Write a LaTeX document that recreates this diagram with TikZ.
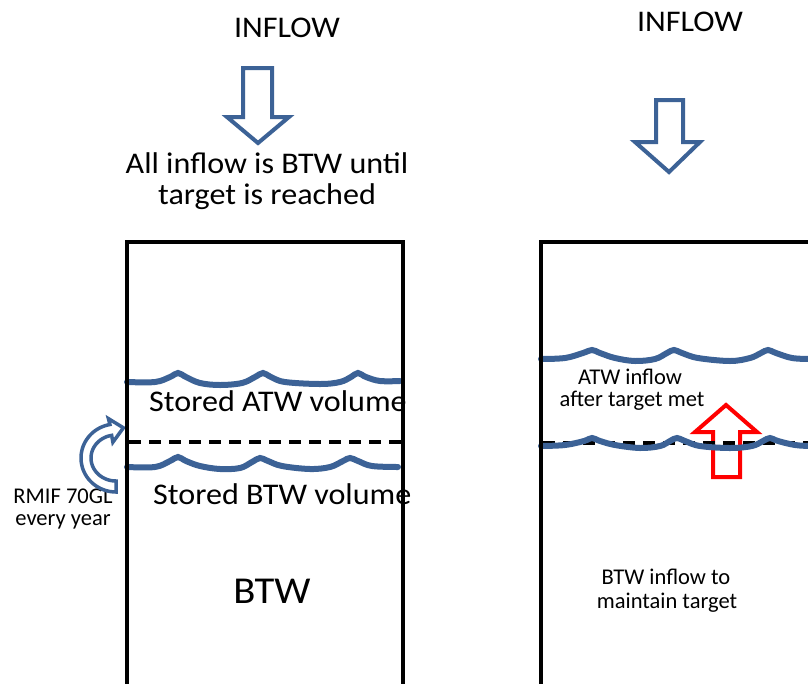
\documentclass[tikz,border=0pt]{standalone}
\usepackage{fontspec}
\setmainfont{Carlito}
\newfontfamily\bigfont{Carlito}[FakeStretch=1.07]
\definecolor{wblue}{RGB}{60,98,150}
\definecolor{wred}{RGB}{255,0,0}
\tikzset{
  boxline/.style={draw=black,line width=4.5pt},
  waveline/.style={draw=wblue,line width=6pt,line cap=round},
  dashline/.style={draw=black,line width=4pt,dash pattern=on 12pt off 8pt},
  bluearrow/.style={draw=wblue,fill=white,line width=4pt,line join=miter},
  redarrow/.style={draw=wred,fill=white,line width=4pt,line join=miter},
  bigtxt/.style={inner sep=0pt,font=\bigfont\fontsize{30}{34}\selectfont},
  midtxt/.style={inner sep=0pt,font=\fontsize{22.5}{26}\selectfont},
  hugetxt/.style={inner sep=0pt,font=\bigfont\fontsize{38}{42}\selectfont},
}
\begin{document}
\begin{tikzpicture}[x=1pt,y=-1pt]
\useasboundingbox (0,0) rectangle (808,683);
% texts
\node[bigtxt] (inflowL) at (287,28) {INFLOW};
\node[bigtxt] (inflowR) at (690,22) {INFLOW};
\node[bigtxt] (allin1) at (267,163) {All inflow is BTW until};
\node[bigtxt] (allin2) at (267,197) {target is reached};
\node[bigtxt,anchor=west] (satw) at (149,401) {Stored ATW volume};
\node[bigtxt,anchor=west] (sbtw) at (153,494) {Stored BTW volume};
\node[midtxt] (rmif1) at (63,496) {RMIF 70GL};
\node[midtxt] (rmif2) at (63,522) {every year};
\node[hugetxt] (btw) at (272,591) {BTW};
\node[midtxt] (atw1) at (630,377) {ATW inflow};
\node[midtxt] (atw2) at (632,401) {after target met};
\node[midtxt] (btwin1) at (666,577) {BTW inflow to};
\node[midtxt] (btwin2) at (667,603) {maintain target};
% down arrows
\draw[bluearrow] (243,68) -- (272,68) -- (272,117) -- (289,117) -- (258,143) -- (227,117) -- (243,117) -- cycle;
\draw[bluearrow] (656,100) -- (683,100) -- (683,142) -- (700,142) -- (669,172) -- (635,142) -- (656,142) -- cycle;
% red up arrow
\draw[redarrow] (726,405) -- (757,432) -- (740,432) -- (740,477) -- (713,477) -- (713,432) -- (695,432) -- cycle;
% curved RMIF arrow
\draw[bluearrow,line width=3.5pt] (116,481) -- (116,492)
  -- plot[domain=90:260,samples=40] ({116+35*cos(\x)},{458+34*sin(\x)})
  -- (108.4,418.6) -- (123.4,427.8) -- (112.9,442.2)
  -- plot[domain=260:90,samples=40] ({116+25*cos(\x)},{458+23*sin(\x)})
  -- cycle;
% dashed lines
\draw[dashline] (129,442) -- (401,442);
\draw[dashline] (543,443) -- (808,443);
% waves
\draw[waveline] plot[smooth,tension=0.6] coordinates {(127,382) (155,382) (170,377) (178,373) (186,377) (200,383) (220,385) (242,383) (255,377) (263,373) (271,377) (285,382) (320,384) (340,382) (351,377) (358,373) (366,377) (380,381) (400,381)};
\draw[waveline] plot[smooth,tension=0.6] coordinates {(127,467) (155,467) (170,461) (178,457) (186,461) (200,466) (220,469) (240,468) (252,462) (260,458) (268,461) (282,466) (310,469) (330,467) (343,461) (350,458) (358,461) (372,466) (398,467)};
\draw[waveline] plot[smooth,tension=0.6] coordinates {(541,359) (565,358) (583,353) (592,350) (600,353) (615,358) (635,361) (655,359) (667,353) (674,350) (682,353) (698,358) (730,361) (750,358) (761,353) (768,350) (776,353) (792,358) (810,359)};
\draw[waveline] plot[smooth,tension=0.6] coordinates {(541,446) (565,445) (584,441) (592,438) (600,441) (615,445) (640,448) (660,446) (670,441) (677,438) (685,441) (700,446) (730,448) (752,446) (763,441) (770,438) (778,441) (795,445) (810,446)};
% boxes
\draw[boxline] (127,690) -- (127,242) -- (403,242) -- (403,690);
\draw[boxline] (541,690) -- (541,242) -- (815,242);
\end{tikzpicture}
\end{document}
